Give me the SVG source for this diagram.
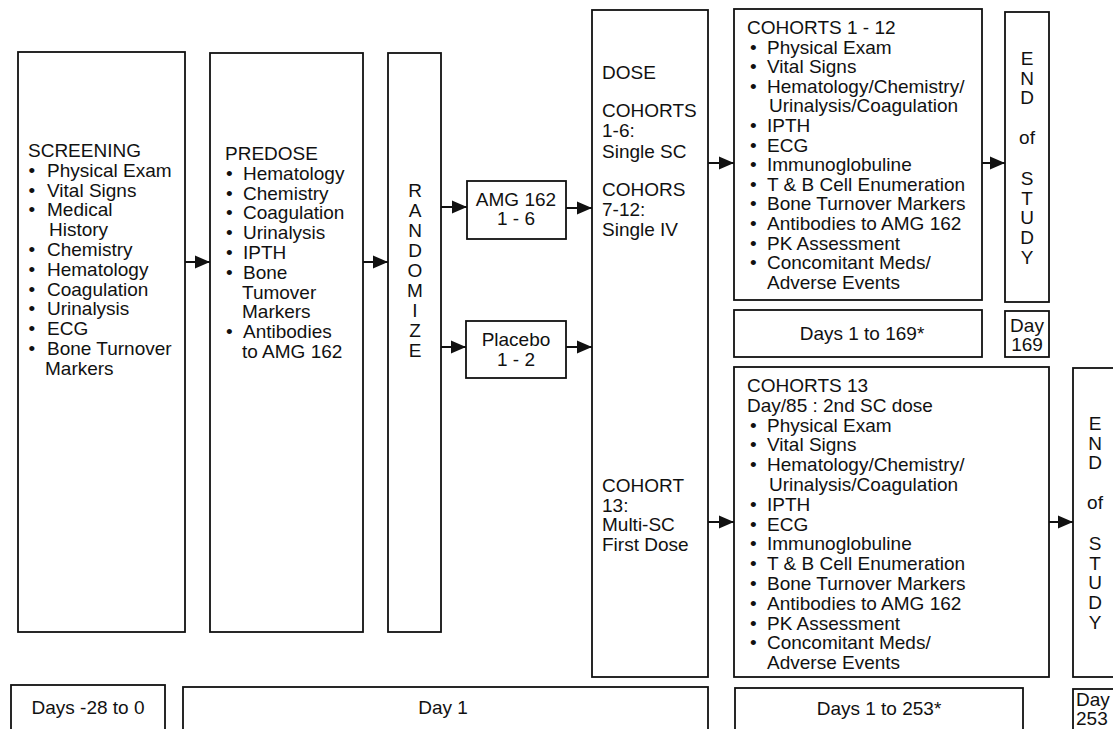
<svg xmlns="http://www.w3.org/2000/svg" width="1113" height="729" viewBox="0 0 1113 729">
<style>
.box{fill:#fff;stroke:#111;stroke-width:1.8}
.t{font-family:"Liberation Sans",Arial,Helvetica,sans-serif;font-size:19px;fill:#111}
.m{text-anchor:middle}
.c{stroke:#111;stroke-width:2;fill:none}
</style>
<defs>
<marker id="ah" markerUnits="userSpaceOnUse" markerWidth="16" markerHeight="14" refX="15" refY="7" orient="auto">
<path d="M0,0.5 L15,7 L0,13.5 z" fill="#111"/>
</marker>
</defs>
<rect width="1113" height="729" fill="#fff"/>

<g id="screening">
<rect class="box" x="18" y="52" width="167" height="580"/>
<text class="t" x="28" y="157">SCREENING</text>
<text class="t" y="177"><tspan x="28.5">•</tspan><tspan x="47">Physical Exam</tspan></text>
<text class="t" y="196.6"><tspan x="28.5">•</tspan><tspan x="47">Vital Signs</tspan></text>
<text class="t" y="216.4"><tspan x="28.5">•</tspan><tspan x="47">Medical</tspan></text>
<text class="t" x="49" y="236.2">History</text>
<text class="t" y="256"><tspan x="28.5">•</tspan><tspan x="47">Chemistry</tspan></text>
<text class="t" y="275.8"><tspan x="28.5">•</tspan><tspan x="47">Hematology</tspan></text>
<text class="t" y="295.6"><tspan x="28.5">•</tspan><tspan x="47">Coagulation</tspan></text>
<text class="t" y="315.4"><tspan x="28.5">•</tspan><tspan x="47">Urinalysis</tspan></text>
<text class="t" y="335.2"><tspan x="28.5">•</tspan><tspan x="47">ECG</tspan></text>
<text class="t" y="355"><tspan x="28.5">•</tspan><tspan x="47">Bone Turnover</tspan></text>
<text class="t" x="45" y="374.8">Markers</text>
</g>

<g id="predose">
<rect class="box" x="210" y="53" width="153" height="579"/>
<text class="t" x="225" y="160">PREDOSE</text>
<text class="t" y="179.8"><tspan x="226">•</tspan><tspan x="243">Hematology</tspan></text>
<text class="t" y="199.6"><tspan x="226">•</tspan><tspan x="243">Chemistry</tspan></text>
<text class="t" y="219.4"><tspan x="226">•</tspan><tspan x="243">Coagulation</tspan></text>
<text class="t" y="239.2"><tspan x="226">•</tspan><tspan x="243">Urinalysis</tspan></text>
<text class="t" y="259"><tspan x="226">•</tspan><tspan x="243">IPTH</tspan></text>
<text class="t" y="278.8"><tspan x="226">•</tspan><tspan x="243">Bone</tspan></text>
<text class="t" x="242" y="298.6">Tumover</text>
<text class="t" x="242" y="318.4">Markers</text>
<text class="t" y="338.2"><tspan x="226">•</tspan><tspan x="243">Antibodies</tspan></text>
<text class="t" x="242" y="358">to AMG 162</text>
</g>

<g id="randomize">
<rect class="box" x="388" y="53" width="53" height="579"/>
<text class="t m" x="415" y="197">R</text>
<text class="t m" x="415" y="217">A</text>
<text class="t m" x="415" y="237">N</text>
<text class="t m" x="415" y="257">D</text>
<text class="t m" x="415" y="277">O</text>
<text class="t m" x="415" y="297">M</text>
<text class="t m" x="415" y="317">I</text>
<text class="t m" x="415" y="337">Z</text>
<text class="t m" x="415" y="357">E</text>
</g>

<g id="amg162">
<rect class="box" x="467" y="181" width="99" height="58"/>
<text class="t m" x="516" y="206">AMG 162</text>
<text class="t m" x="516" y="225">1 - 6</text>
</g>

<g id="placebo">
<rect class="box" x="466" y="321" width="100" height="57"/>
<text class="t m" x="516" y="346">Placebo</text>
<text class="t m" x="516" y="366">1 - 2</text>
</g>

<g id="dose">
<rect class="box" x="592" y="10" width="116" height="667"/>
<text class="t" x="602" y="79">DOSE</text>
<text class="t" x="602" y="117">COHORTS</text>
<text class="t" x="602" y="137">1-6:</text>
<text class="t" x="602" y="158">Single SC</text>
<text class="t" x="602" y="196">COHORS</text>
<text class="t" x="602" y="216">7-12:</text>
<text class="t" x="602" y="236">Single IV</text>
<text class="t" x="602" y="492">COHORT</text>
<text class="t" x="602" y="512">13:</text>
<text class="t" x="602" y="531">Multi-SC</text>
<text class="t" x="602" y="550.5">First Dose</text>
</g>

<g id="cohorts1-12">
<rect class="box" x="734" y="9" width="248" height="291"/>
<text class="t" x="747" y="34">COHORTS 1 - 12</text>
<text class="t" y="53.6"><tspan x="750">•</tspan><tspan x="767">Physical Exam</tspan></text>
<text class="t" y="73.2"><tspan x="750">•</tspan><tspan x="767">Vital Signs</tspan></text>
<text class="t" y="92.8"><tspan x="750">•</tspan><tspan x="767">Hematology/Chemistry/</tspan></text>
<text class="t" x="769" y="112.4">Urinalysis/Coagulation</text>
<text class="t" y="132"><tspan x="750">•</tspan><tspan x="767">IPTH</tspan></text>
<text class="t" y="151.6"><tspan x="750">•</tspan><tspan x="767">ECG</tspan></text>
<text class="t" y="171.2"><tspan x="750">•</tspan><tspan x="767">Immunoglobuline</tspan></text>
<text class="t" y="190.8"><tspan x="750">•</tspan><tspan x="767">T &amp; B Cell Enumeration</tspan></text>
<text class="t" y="210.4"><tspan x="750">•</tspan><tspan x="767">Bone Turnover Markers</tspan></text>
<text class="t" y="230"><tspan x="750">•</tspan><tspan x="767">Antibodies to AMG 162</tspan></text>
<text class="t" y="249.6"><tspan x="750">•</tspan><tspan x="767">PK Assessment</tspan></text>
<text class="t" y="269.2"><tspan x="750">•</tspan><tspan x="767">Concomitant Meds/</tspan></text>
<text class="t" x="767" y="288.8">Adverse Events</text>
</g>

<g id="days1-169">
<rect class="box" x="734" y="310" width="248" height="47"/>
<text class="t m" x="862" y="340">Days 1 to 169*</text>
</g>

<g id="end1">
<rect class="box" x="1005" y="12" width="44" height="290"/>
<text class="t m" x="1027" y="65">E</text>
<text class="t m" x="1027" y="85">N</text>
<text class="t m" x="1027" y="104">D</text>
<text class="t m" x="1027" y="144">of</text>
<text class="t m" x="1027" y="185">S</text>
<text class="t m" x="1027" y="205">T</text>
<text class="t m" x="1027" y="224">U</text>
<text class="t m" x="1027" y="244">D</text>
<text class="t m" x="1027" y="264">Y</text>
</g>

<g id="day169">
<rect class="box" x="1005" y="311" width="44" height="46"/>
<text class="t m" x="1027" y="332">Day</text>
<text class="t m" x="1027" y="351">169</text>
</g>

<g id="cohorts13">
<rect class="box" x="734" y="367" width="315" height="310"/>
<text class="t" x="747" y="392">COHORTS 13</text>
<text class="t" x="747" y="411.8">Day/85 : 2nd SC dose</text>
<text class="t" y="431.6"><tspan x="750">•</tspan><tspan x="767">Physical Exam</tspan></text>
<text class="t" y="451.4"><tspan x="750">•</tspan><tspan x="767">Vital Signs</tspan></text>
<text class="t" y="471.2"><tspan x="750">•</tspan><tspan x="767">Hematology/Chemistry/</tspan></text>
<text class="t" x="769" y="491">Urinalysis/Coagulation</text>
<text class="t" y="510.8"><tspan x="750">•</tspan><tspan x="767">IPTH</tspan></text>
<text class="t" y="530.6"><tspan x="750">•</tspan><tspan x="767">ECG</tspan></text>
<text class="t" y="550.4"><tspan x="750">•</tspan><tspan x="767">Immunoglobuline</tspan></text>
<text class="t" y="570.2"><tspan x="750">•</tspan><tspan x="767">T &amp; B Cell Enumeration</tspan></text>
<text class="t" y="590"><tspan x="750">•</tspan><tspan x="767">Bone Turnover Markers</tspan></text>
<text class="t" y="609.8"><tspan x="750">•</tspan><tspan x="767">Antibodies to AMG 162</tspan></text>
<text class="t" y="629.6"><tspan x="750">•</tspan><tspan x="767">PK Assessment</tspan></text>
<text class="t" y="649.4"><tspan x="750">•</tspan><tspan x="767">Concomitant Meds/</tspan></text>
<text class="t" x="767" y="669.2">Adverse Events</text>
</g>

<g id="end2">
<rect class="box" x="1073" y="368" width="60" height="309"/>
<text class="t m" x="1095" y="430">E</text>
<text class="t m" x="1095" y="450">N</text>
<text class="t m" x="1095" y="469">D</text>
<text class="t m" x="1095" y="509">of</text>
<text class="t m" x="1095" y="550">S</text>
<text class="t m" x="1095" y="570">T</text>
<text class="t m" x="1095" y="589">U</text>
<text class="t m" x="1095" y="609">D</text>
<text class="t m" x="1095" y="629">Y</text>
</g>

<g id="days-28-0">
<rect class="box" x="11" y="685" width="154" height="60"/>
<text class="t m" x="88" y="714">Days -28 to 0</text>
</g>

<g id="day1">
<rect class="box" x="183" y="687" width="525" height="60"/>
<text class="t m" x="443" y="714">Day 1</text>
</g>

<g id="days1-253">
<rect class="box" x="735" y="688" width="288" height="60"/>
<text class="t m" x="879" y="715">Days 1 to 253*</text>
</g>

<g id="day253">
<rect class="box" x="1073" y="689" width="60" height="60"/>
<text class="t" x="1076" y="705.5">Day</text>
<text class="t" x="1076" y="725">253</text>
</g>

<g id="connectors">
<line class="c" x1="185" y1="262" x2="210" y2="262" marker-end="url(#ah)"/>
<line class="c" x1="363" y1="262" x2="388" y2="262" marker-end="url(#ah)"/>
<line class="c" x1="441" y1="207" x2="467" y2="207" marker-end="url(#ah)"/>
<line class="c" x1="441" y1="347" x2="466" y2="347" marker-end="url(#ah)"/>
<line class="c" x1="566" y1="208" x2="592" y2="208" marker-end="url(#ah)"/>
<line class="c" x1="566" y1="347" x2="592" y2="347" marker-end="url(#ah)"/>
<line class="c" x1="708" y1="163" x2="734" y2="163" marker-end="url(#ah)"/>
<line class="c" x1="708" y1="522" x2="734" y2="522" marker-end="url(#ah)"/>
<line class="c" x1="982" y1="163" x2="1005" y2="163" marker-end="url(#ah)"/>
<line class="c" x1="1049" y1="522" x2="1073" y2="522" marker-end="url(#ah)"/>
</g>
</svg>
